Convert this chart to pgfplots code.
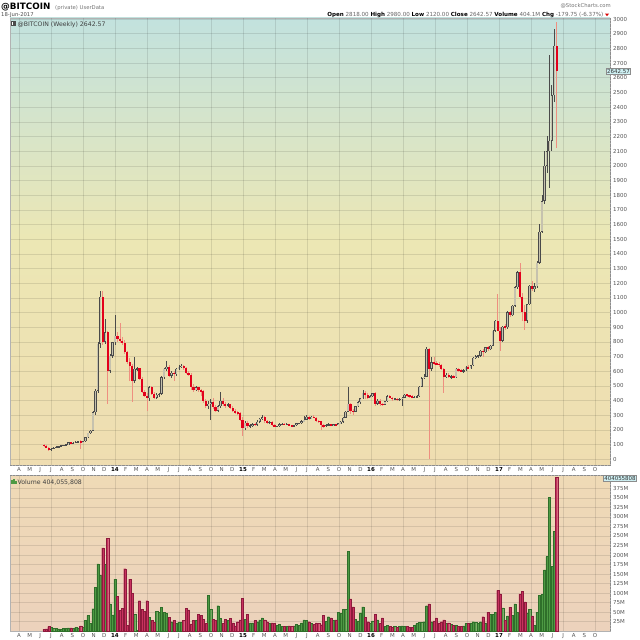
\documentclass[border=0pt]{standalone}
\usepackage{pgfplots}
\pgfplotsset{compat=1.18}
\usepackage{pgfplotstable}
\usepackage{fontspec}
\setmainfont{DejaVu Sans}
\definecolor{bgtop}{HTML}{C2E2DE}
\definecolor{bgmid}{HTML}{ECE7B4}
\definecolor{bgbot}{HTML}{EFDDB1}
\definecolor{vtop}{HTML}{EFDAB6}
\definecolor{vbot}{HTML}{ECD2BC}
\definecolor{upfill}{HTML}{C6C2AE}
\definecolor{upline}{HTML}{4A4A4A}
\definecolor{dnfill}{HTML}{E3001B}
\definecolor{dnwick}{HTML}{EE8F80}
\definecolor{vgreen}{HTML}{4E9A44}
\definecolor{vgreenl}{HTML}{2F6F2A}
\definecolor{vred}{HTML}{C8325F}
\definecolor{vredl}{HTML}{8E1A3C}
\definecolor{tickgray}{HTML}{555555}
\definecolor{boxc}{HTML}{CDEFF2}

\pgfplotstableread{
k o h l c v
-29 98 102 85 90 5
-28 90 95 78 80 6
-27 80 84 58 66 12
-26 66 80 55 72 10
-25 72 82 68 78 8
-24 78 88 74 85 7
-23 85 92 80 88 6
-22 88 95 84 92 5
-21 92 100 88 96 8
-20 96 104 92 100 7
-19 100 118 98 115 9
-18 115 118 104 106 9
-17 106 115 102 112 8
-16 112 122 108 118 10
-15 118 126 114 122 9
-14 122 128 72 116 14
-13 116 126 110 124 10
-12 124 152 120 150 28
-11 150 182 145 180 41
-10 180 200 172 195 20
-9 195 330 190 320 59
-8 320 480 300 468 115
-7 468 800 450 786 177
-6 786 1150 760 1109 146
-5 1109 1145 780 802 219
-4 802 958 786 866 175
-3 866 877 377 604 244
-2 604 720 590 706 72
-1 706 800 690 797 43
0 797 986 780 843 137
1 843 870 800 820 91
2 820 926 790 805 54
3 805 830 780 795 60
4 795 810 720 729 164
5 729 740 650 661 16
6 661 690 536 638 137
7 638 650 388 536 100
8 536 695 520 616 45
9 616 630 600 620 3
10 620 625 540 547 80
11 547 560 450 456 58
12 456 470 425 433 52
13 433 450 331 415 80
14 415 500 400 491 36
15 491 500 435 445 28
16 445 460 410 418 23
17 418 450 410 440 52
18 440 455 425 445 50
19 445 570 440 558 63
20 558 625 550 616 50
21 616 672 600 629 47
22 629 640 560 570 36
23 570 600 555 590 25
24 590 600 536 581 29
25 581 625 570 616 20
26 616 640 605 629 23
27 629 650 620 638 23
28 638 645 610 620 29
29 620 630 580 590 60
30 590 600 565 575 56
31 575 590 470 490 19
32 490 510 460 470 28
33 470 500 465 490 29
34 490 495 460 470 45
35 470 480 430 465 41
36 465 470 385 400 32
37 400 410 350 360 20
38 360 395 345 380 95
39 380 410 270 390 57
40 390 420 340 355 32
41 355 370 320 330 29
42 330 370 325 360 67
43 360 460 350 400 34
44 400 420 360 375 20
45 375 390 350 370 32
46 370 385 355 375 28
47 375 380 340 350 34
48 350 360 320 330 22
49 330 340 310 320 14
50 320 330 305 315 25
51 315 320 260 270 30
52 270 290 160 210 86
53 210 260 200 250 32
54 250 260 215 225 45
55 225 240 215 230 22
56 230 245 220 240 22
57 240 250 230 235 28
58 235 265 230 255 25
59 255 280 250 275 30
60 275 300 265 285 35
61 285 295 250 260 30
62 260 265 240 248 25
63 248 262 240 255 20
64 255 260 230 236 22
65 236 240 218 224 20
66 224 230 218 226 15
67 226 245 222 238 18
68 238 245 232 240 12
69 240 245 232 237 12
70 237 245 234 240 12
71 240 242 225 230 14
72 230 232 220 225 12
73 225 235 222 232 14
74 232 250 228 245 18
75 245 250 238 246 16
76 246 270 240 258 22
77 258 295 255 270 30
78 270 300 265 290 28
79 290 295 270 275 25
80 275 295 272 290 20
81 290 300 278 282 18
82 282 285 255 262 22
83 262 270 250 258 20
84 258 260 200 232 17
85 232 240 215 228 41
86 228 240 222 235 26
87 235 245 228 238 38
88 238 240 225 230 35
89 230 242 228 238 29
90 238 242 230 236 30
91 236 248 232 245 50
92 245 260 240 255 47
93 255 285 250 282 58
94 282 330 278 325 58
95 325 495 320 380 210
96 380 385 310 330 85
97 330 340 300 325 64
98 325 365 320 360 31
99 360 395 355 390 27
100 390 420 380 415 48
101 415 470 410 455 64
102 455 465 410 440 36
103 440 450 410 420 25
104 420 440 415 430 20
105 430 455 425 450 27
106 450 460 360 380 45
107 380 410 370 400 30
108 400 410 365 375 20
109 375 385 360 372 35
110 372 400 368 395 12
111 395 440 390 430 15
112 430 440 415 420 12
113 420 425 400 410 10
114 410 420 405 412 12
115 412 420 395 405 10
116 405 420 398 410 12
117 410 425 365 420 14
118 420 445 415 440 12
119 440 445 425 435 12
120 435 440 420 430 10
121 430 435 415 420 10
122 420 430 415 425 15
123 425 440 420 430 20
124 430 500 425 495 23
125 495 560 490 553 23
126 553 580 545 564 25
127 564 764 560 753 67
128 753 760 0 618 72
129 618 700 600 660 25
130 660 700 640 655 27
131 655 670 640 650 35
132 650 665 630 645 22
133 645 650 610 618 25
134 618 625 455 563 30
135 563 585 555 575 20
136 575 585 555 560 22
137 560 575 550 565 18
138 565 575 555 560 15
139 560 625 555 618 15
140 618 625 595 604 13
141 604 615 595 600 12
142 600 612 590 605 14
143 605 635 600 630 20
144 630 640 615 620 20
145 620 645 615 641 22
146 641 700 635 693 25
147 693 710 680 702 23
148 702 712 690 707 20
149 707 745 700 741 25
150 741 750 700 730 38
151 730 765 725 763 22
152 763 775 740 751 50
153 751 780 745 775 45
154 775 880 770 877 45
155 877 950 870 945 50
156 945 1127 900 877 107
157 877 900 740 808 98
158 808 910 800 904 61
159 904 920 880 900 28
160 900 1010 890 1002 40
161 1002 1010 970 980 63
162 980 1050 975 1047 42
163 1047 1180 1040 1172 72
164 1172 1280 1160 1274 50
165 1274 1337 1100 1104 98
166 1104 1130 945 1002 105
167 1002 1050 882 945 77
168 945 1060 930 1058 48
169 1058 1190 1050 1183 58
170 1183 1217 1150 1161 40
171 1161 1200 1140 1180 15
172 1180 1350 1170 1340 50
173 1340 1600 1330 1550 95
174 1550 1800 1540 1760 96
175 1760 2100 1740 2000 161
176 2000 2200 1950 2100 196
177 2100 2754 1850 2170 352
178 2170 2550 2100 2481 170
179 2481 2930 2435 2818 263
180 2818 2980 2120 2642.57 404
}\btc

\pgfplotsset{
  chartbase/.style={
    scale only axis, width=600bp,
    xmin=-9.84, xmax=46.4,
    axis line style={draw=black!30, line width=0.4bp},
    xtick={-9,...,45},
    xticklabels={A,M,J,J,A,S,O,N,D,{\textcolor{black}{\textbf{14}}},F,M,A,M,J,J,A,S,O,N,D,{\textcolor{black}{\textbf{15}}},F,M,A,M,J,J,A,S,O,N,D,{\textcolor{black}{\textbf{16}}},F,M,A,M,J,J,A,S,O,N,D,{\textcolor{black}{\textbf{17}}},F,M,A,M,J,J,A,S,O},
    xticklabel style={font=\fontsize{5.5}{6}\selectfont, text=tickgray, inner sep=0pt, anchor=north, yshift=-2.2bp},
    major tick length=0pt,
    yticklabel pos=right,
    yticklabel style={font=\fontsize{5.5}{6}\selectfont, text=tickgray, anchor=west, inner sep=0pt, xshift=3bp},
    ymajorgrids,
    major grid style={draw=black, opacity=0.1, line width=0.5bp},
    extra x ticks={-9,-6,...,45},
    extra x tick labels={},
    extra x tick style={grid=major, major tick length=0pt},
    scaled ticks=false,
    /pgf/number format/assume math mode=true,
    /pgf/number format/1000 sep={},
  },
  candle/.style n args={2}{draw=none, no markers, forget plot,
    error bars/.cd, y dir=both, y explicit, error mark=none,
    error bar style={draw=#1, line width=#2}},
}

\begin{document}
\begin{tikzpicture}
\path[use as bounding box] (0,0) rectangle (640bp,-640bp);
\fill[white] (0,0) rectangle (640bp,-640bp);

% ---------- price panel ----------
\begin{axis}[chartbase,
  at={(10bp,-465bp)}, anchor=south west, height=447bp,
  ymin=-39, ymax=3007,
  axis background/.style={top color=bgtop, bottom color=bgbot, middle color=bgmid},
  ytick={0,100,...,3000},
]
% up wicks
\addplot[restrict expr to domain={\thisrow{c}-\thisrow{o}}{0:100000}, candle={upline}{0.5bp}]
  table[x expr={\thisrow{k}*0.22998}, y expr={(\thisrow{h}+\thisrow{l})/2}, y error expr={(\thisrow{h}-\thisrow{l})/2}] {\btc};
% down wicks
\addplot[restrict expr to domain={\thisrow{o}-\thisrow{c}}{0.0001:100000}, candle={dnwick}{0.6bp}]
  table[x expr={\thisrow{k}*0.22998}, y expr={(\thisrow{h}+\thisrow{l})/2}, y error expr={(\thisrow{h}-\thisrow{l})/2}] {\btc};
% up bodies (outline)
\addplot[restrict expr to domain={\thisrow{c}-\thisrow{o}}{0:100000}, candle={upline}{2.3bp}]
  table[x expr={\thisrow{k}*0.22998}, y expr={(\thisrow{o}+\thisrow{c})/2}, y error expr={max(abs(\thisrow{c}-\thisrow{o})/2,4)}] {\btc};
% up bodies (fill)
\addplot[restrict expr to domain={\thisrow{c}-\thisrow{o}}{0:100000}, candle={upfill}{1.3bp}]
  table[x expr={\thisrow{k}*0.22998}, y expr={(\thisrow{o}+\thisrow{c})/2}, y error expr={max(abs(\thisrow{c}-\thisrow{o})/2-3.5,0)}] {\btc};
% down bodies
\addplot[restrict expr to domain={\thisrow{o}-\thisrow{c}}{0.0001:100000}, candle={dnfill}{2.2bp}]
  table[x expr={\thisrow{k}*0.22998}, y expr={(\thisrow{o}+\thisrow{c})/2}, y error expr={max(abs(\thisrow{c}-\thisrow{o})/2,4)}] {\btc};
\end{axis}

% ---------- volume panel ----------
\begin{axis}[chartbase,
  at={(10bp,-631.2bp)}, anchor=south west, height=156.2bp,
  ymin=0, ymax=410,
  axis background/.style={top color=vtop, bottom color=vbot},
  ytick={25,50,...,375},
  yticklabel={\pgfmathprintnumber{\tick}M},
]
\addplot[ybar, bar width=2.1bp, bar shift=0pt, fill=vgreen, draw=vgreenl, line width=0.3bp,
  restrict expr to domain={\thisrow{c}-\thisrow{o}}{0:100000}]
  table[x expr={\thisrow{k}*0.22998}, y=v] {\btc};
\addplot[ybar, bar width=2.1bp, bar shift=0pt, fill=vred, draw=vredl, line width=0.3bp,
  restrict expr to domain={\thisrow{o}-\thisrow{c}}{0.0001:100000}]
  table[x expr={\thisrow{k}*0.22998}, y=v] {\btc};
\end{axis}

% band lines
\draw[black!45, densely dotted, line width=0.4bp] (10bp,-465.3bp) -- (610bp,-465.3bp);
\draw[black!45, densely dotted, line width=0.4bp] (10bp,-474.8bp) -- (610bp,-474.8bp);
\draw[black!45, densely dotted, line width=0.4bp] (610bp,-18bp) -- (610bp,-465bp);
\draw[black!45, densely dotted, line width=0.4bp] (610bp,-475bp) -- (610bp,-631bp);

% header
\node[anchor=base west, inner sep=0pt, font=\bfseries\fontsize{8.8}{9}\selectfont] at (1bp,-9.5bp) {@BITCOIN};
\node[anchor=base west, inner sep=0pt, font=\fontsize{5.3}{6}\selectfont, text=black!55] at (55bp,-9.5bp) {(private) UserData};
\node[anchor=base west, inner sep=0pt, font=\fontsize{5.3}{6}\selectfont, text=black!70] at (1bp,-16.6bp) {18-Jun-2017};
\node[anchor=base east, inner sep=0pt, font=\fontsize{5.3}{6}\selectfont, text=black!55] at (611bp,-7.8bp) {@StockCharts.com};
\node[anchor=base east, inner sep=0pt, font=\fontsize{5.6}{6}\selectfont, text=black!60] at (603.5bp,-16.6bp)
 {\textcolor{black}{\textbf{Open}} 2818.00 \textcolor{black}{\textbf{High}} 2980.00 \textcolor{black}{\textbf{Low}} 2120.00 \textcolor{black}{\textbf{Close}} 2642.57 \textcolor{black}{\textbf{Volume}} 404.1M \textcolor{black}{\textbf{Chg}} -179.75 (-6.37\%)};
\fill[red!85!black] (605bp,-13.6bp) -- (609bp,-13.6bp) -- (607bp,-16.2bp) -- cycle;

% panel legends
\fill[black!70] (11bp,-21.2bp) rectangle (15.5bp,-26.2bp);
\fill[white] (12bp,-22.2bp) rectangle (13bp,-25.2bp);
\node[anchor=base west, inner sep=0pt, font=\fontsize{6.2}{7}\selectfont, text=black!75] at (17.5bp,-26.3bp) {@BITCOIN (Weekly) 2642.57};
\fill[vgreen] (11bp,-484bp) rectangle (12.5bp,-480bp);
\fill[vgreen] (13bp,-484bp) rectangle (14.5bp,-478.5bp);
\fill[vgreen] (15bp,-484bp) rectangle (16.5bp,-481bp);
\node[anchor=base west, inner sep=0pt, font=\fontsize{6.2}{7}\selectfont, text=black!75] at (17.5bp,-484.2bp) {Volume 404,055,808};

% value boxes
\node[fill=boxc, draw=black!45, line width=0.4bp, inner sep=0.8bp, font=\fontsize{5.5}{6}\selectfont, text=black!80] at (618.5bp,-71.4bp) {2642.57};
\node[fill=boxc, draw=black!45, line width=0.4bp, inner sep=0.8bp, font=\fontsize{5.5}{6}\selectfont, text=black!80] at (620bp,-478.5bp) {404055808};
\end{tikzpicture}
\end{document}
